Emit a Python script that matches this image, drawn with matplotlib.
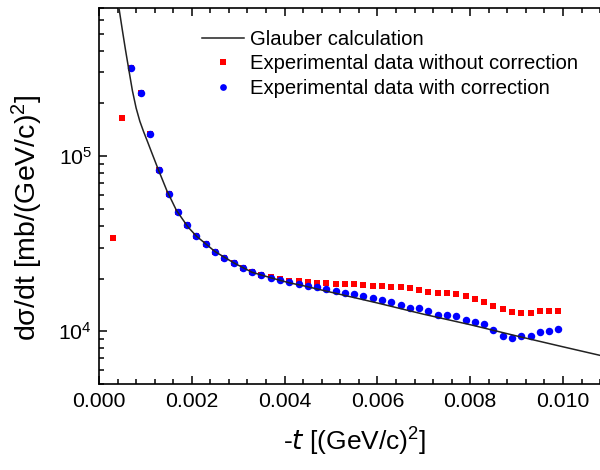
import matplotlib
matplotlib.use('Agg')
import matplotlib.pyplot as plt
from matplotlib.ticker import MultipleLocator, LogLocator, NullFormatter

plt.rcParams['font.family'] = ['Liberation Sans', 'DejaVu Sans']
plt.rcParams['mathtext.default'] = 'regular'

# Glauber calculation
t_glauber = [0.00043, 0.00050, 0.00057, 0.00064, 0.00072, 0.00080, 0.00088,
             0.00096, 0.00105, 0.00114, 0.00128, 0.00146, 0.00167, 0.00192,
             0.0021, 0.0025, 0.0029, 0.0033, 0.0037, 0.0041, 0.0044, 0.0050,
             0.0060, 0.0070, 0.0080, 0.0090, 0.0100, 0.0110]
sig_glauber = [700000, 530000, 405000, 314000, 236000, 188000, 158000,
               138000, 120000, 104000, 83500, 63700, 48900, 39300,
               34900, 28500, 24600, 21700, 20200, 18900, 18200, 16700,
               14500, 12500, 10900, 9400, 8150, 7080]

# experimental data without correction
t_raw = [0.0003, 0.0005, 0.0007, 0.0009, 0.0011, 0.0013, 0.0015, 0.0017,
         0.0019, 0.0021, 0.0023, 0.0025, 0.0027, 0.0029, 0.0031, 0.0033,
         0.0035, 0.0037, 0.0039, 0.0041, 0.0043, 0.0045, 0.0047, 0.0049,
         0.0051, 0.0053, 0.0055, 0.0057, 0.0059, 0.0061, 0.0063, 0.0065,
         0.0067, 0.0069, 0.0071, 0.0073, 0.0075, 0.0077, 0.0079, 0.0081,
         0.0083, 0.0085, 0.0087, 0.0089, 0.0091, 0.0093, 0.0095, 0.0097,
         0.0099]
sig_raw = [34200, 165000, 320000, 230000, 134000, 83600, 60400, 47900,
           40200, 34900, 31300, 28500, 26200, 24600, 23000, 21700,
           21000, 20300, 19900, 19300, 19230, 19100, 18970, 18970,
           18660, 18660, 18490, 18320, 18170, 18080, 18000, 17840,
           17700, 17240, 16860, 16490, 16490, 16210, 15790, 15240,
           14640, 13890, 13430, 12840, 12740, 12740, 13010, 13010,
           13010]

# experimental data with correction
t_cor = [0.0007, 0.0009, 0.0011, 0.0013, 0.0015, 0.0017, 0.0019, 0.0021,
         0.0023, 0.0025, 0.0027, 0.0029, 0.0031, 0.0033, 0.0035, 0.0037,
         0.0039, 0.0041, 0.0043, 0.0045, 0.0047, 0.0049, 0.0051, 0.0053,
         0.0055, 0.0057, 0.0059, 0.0061, 0.0063, 0.0065, 0.0067, 0.0069,
         0.0071, 0.0073, 0.0075, 0.0077, 0.0079, 0.0081, 0.0083, 0.0085,
         0.0087, 0.0089, 0.0091, 0.0093, 0.0095, 0.0097, 0.0099]
sig_cor = [320000, 230000, 134000, 83600, 60400, 47900, 40200, 34900,
           31300, 28500, 26200, 24600, 23000, 21700, 21000, 20200,
           19670, 19050, 18660, 18240, 17840, 17470, 17080, 16640,
           16210, 15790, 15520, 15120, 14640, 14210, 13570, 13600,
           13010, 12460, 12460, 12290, 11620, 11360, 11020, 10190,
           9450, 9170, 9450, 9450, 9870, 10090, 10320]

fig = plt.figure(figsize=(6, 4.7), dpi=100)
# right edge of the frame falls just outside the picture, like the original
ax = fig.add_axes([0.165, 0.183, 0.8507, 0.800])

ax.plot(t_raw, sig_raw, 's', color='#ff0000', markersize=4.5,
        markeredgewidth=0, label='Experimental data without correction', zorder=2)
ax.plot(t_cor, sig_cor, 'o', color='#0000ff', markersize=5.4,
        markeredgewidth=0, label='Experimental data with correction', zorder=3)
ax.plot(t_glauber, sig_glauber, '-', color='#222222', linewidth=1.1,
        label='Glauber calculation', zorder=4)

ax.set_yscale('log')
ax.set_xlim(0, 0.011)
ax.set_ylim(5000, 700000)

ax.xaxis.set_major_locator(MultipleLocator(0.002))
ax.xaxis.set_minor_locator(MultipleLocator(0.0004))
ax.xaxis.set_major_formatter(plt.FuncFormatter(lambda v, p: '%.3f' % v))
ax.yaxis.set_major_locator(LogLocator(base=10))
ax.yaxis.set_minor_locator(LogLocator(base=10, subs=range(2, 10)))
ax.yaxis.set_minor_formatter(NullFormatter())

ax.tick_params(which='both', direction='in', top=True, right=False,
               width=1.1, labelsize=15.3)
ax.tick_params(which='major', length=6)
ax.tick_params(which='minor', length=3.5)
ax.tick_params(axis='x', pad=6)
ax.tick_params(axis='y', pad=5)
for s in ax.spines.values():
    s.set_linewidth(1.2)
ax.spines['right'].set_visible(False)

ax.set_xlabel(r'-$\it{t}$ [(GeV/c)$^2$]', fontsize=19)
ax.set_ylabel(r'd$\sigma$/dt [mb/(GeV/c)$^2$]', fontsize=20.5)
ax.xaxis.set_label_coords(0.5016, -0.112)
ax.yaxis.set_label_coords(-0.106, 0.443)

h, l = ax.get_legend_handles_labels()
order = [2, 0, 1]
ax.legend([h[i] for i in order], [l[i] for i in order],
          loc='upper left', bbox_to_anchor=(202 / 600, 1 - 30 / 470),
          bbox_transform=fig.transFigure, frameon=False, fontsize=14.6,
          handlelength=2.05, handletextpad=0.3, labelspacing=0.27,
          borderpad=0, borderaxespad=0, markerscale=0.9)

fig.savefig('out.png', dpi=100)
